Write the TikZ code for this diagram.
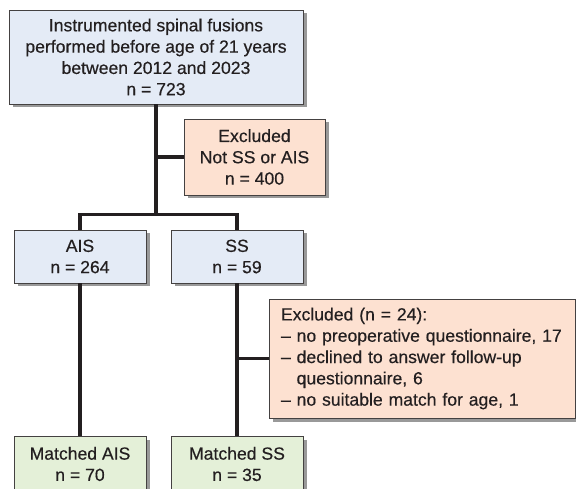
\documentclass[tikz,border=0pt]{standalone}
\usepackage{fontspec}
\newfontfamily\chartfont[FakeBold=0.4]{Liberation Sans}
\usepackage{tikz}
\usetikzlibrary{shadows}

\definecolor{inkgray}{HTML}{231F20}
\definecolor{stepblue}{HTML}{E4EBF6}
\definecolor{outorange}{HTML}{FDE1D1}
\definecolor{matchgreen}{HTML}{E4F0D8}

\begin{document}
\begin{tikzpicture}[x=1pt,y=-1pt,
  box/.style={draw=inkgray!85,line width=0.8pt,text=inkgray,inner sep=0pt,
    font=\chartfont\fontsize{17.6}{21.3}\selectfont,align=center,
    drop shadow={shadow xshift=3.5pt,shadow yshift=-3.5pt,fill=black,opacity=.4}},
  bluebox/.style={box,fill=stepblue},
  outbox/.style={box,fill=outorange},
  greenbox/.style={box,fill=matchgreen},
  link/.style={draw=inkgray,line width=3.2pt}]
  \useasboundingbox (0,0) rectangle (576,489);
  % cohort
  \node[bluebox,minimum width=294pt,minimum height=94pt] (cohort) at (156,57)
    {Instrumented spinal fusions\\performed before age of 21 years\\between 2012 and 2023\\n = 723};
  \node[outbox,minimum width=141pt,minimum height=76pt] (excla) at (254.5,157)
    {Excluded\\Not SS or AIS\\n = 400};
  % groups
  \node[bluebox,minimum width=132pt,minimum height=53pt] (ais) at (80,256.5) {AIS\\n = 264};
  \node[bluebox,minimum width=132pt,minimum height=53pt] (ss) at (237,256.5) {SS\\n = 59};
  \node[outbox,minimum width=306pt,minimum height=119pt,align=left,
    text width=282pt,inner xsep=12pt] (exclb) at (422,358.5)
    {Excluded (n = 24):\\
     – no preoperative questionnaire, 17\\
     – declined to answer follow-up\\
     \phantom{– }questionnaire, 6\\
     – no suitable match for age, 1};
  % matched
  \node[greenbox,minimum width=132pt,minimum height=56pt] (mais) at (80,464) {Matched AIS\\n = 70};
  \node[greenbox,minimum width=132pt,minimum height=56pt] (mss) at (237,464) {Matched SS\\n = 35};
  % connectors
  \path[coordinate] (cohort.south) ++(0,110) coordinate(fork);
  \draw[link] (cohort.south) -- (fork);
  \draw[link] (excla.west) -- (excla.west -| cohort.south);
  \draw[link,line join=miter] (ais.north) |- (fork) -| (ss.north);
  \draw[link] (ais.south) -- (mais.north);
  \draw[link] (ss.south) -- (mss.north);
  \draw[link] (exclb.west) -- (exclb.west -| ss.south);
\end{tikzpicture}
\end{document}
